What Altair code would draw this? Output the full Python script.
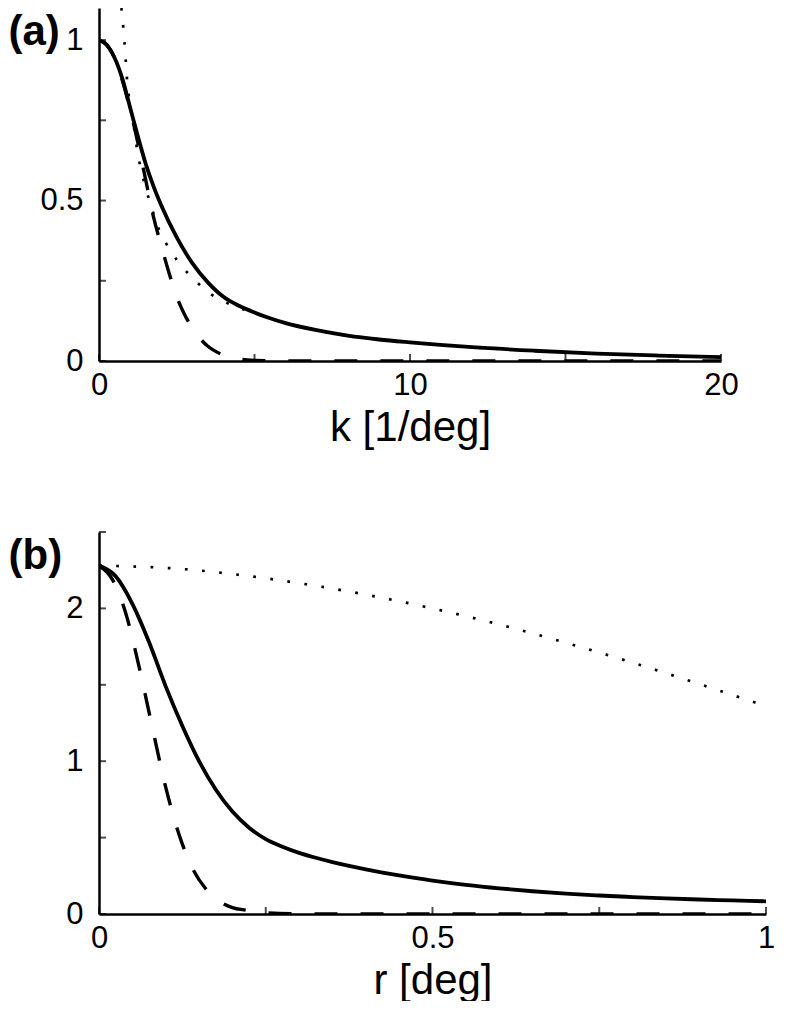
import altair as alt
import pandas as pd

# ---------------- Panel (a) ----------------
A_SOLID_K = [0, 0.25, 0.5, 0.75, 1, 1.25, 1.5, 1.75, 2, 2.5, 3, 3.5, 4, 4.5, 5,
             5.5, 6, 7, 8, 9, 10, 12, 14, 16, 18, 20]
A_SOLID_V = [1.0, 0.985, 0.945, 0.88, 0.79, 0.70, 0.615, 0.545, 0.485, 0.385, 0.305,
             0.245, 0.2, 0.172, 0.151, 0.133, 0.118, 0.096, 0.079, 0.067, 0.058, 0.043,
             0.032, 0.023, 0.017, 0.012]
A_DASH_K = [0, 0.25, 0.5, 0.75, 1, 1.25, 1.5, 1.75, 2, 2.25, 2.5, 2.75, 3, 3.25,
            3.5, 3.75, 4, 4.5, 5, 6, 8, 10, 12, 14, 16, 18, 20]
A_DASH_V = [1.0, 0.985, 0.945, 0.875, 0.785, 0.68, 0.565, 0.45, 0.36, 0.275, 0.2,
            0.145, 0.103, 0.07, 0.046, 0.03, 0.018, 0.006, 0.002, 0, 0, 0, 0, 0, 0,
            0, 0]
A_DOT_K = [0.72, 0.78, 0.85, 0.94, 1.1, 1.25, 1.5, 1.75, 2.0, 2.5, 3.0, 3.5, 4, 4.5,
           5, 5.5, 6, 7, 8, 10, 12, 14, 16, 18, 20]
A_DOT_V = [1.1, 1.04, 0.95, 0.84, 0.745, 0.645, 0.54, 0.46, 0.395, 0.315, 0.26,
           0.215, 0.186, 0.166, 0.149, 0.133, 0.118, 0.096, 0.079, 0.058, 0.043,
           0.032, 0.023, 0.017, 0.012]
A_XTICKS = [0, 5, 10, 15, 20]
A_YTICKS = [0, 0.25, 0.5, 0.75, 1]
A_XLABELS = [0, 10, 20]
A_YLABELS = [0, 0.5, 1]

# ---------------- Panel (b) ----------------
B_SOLID_R = [0, 0.025, 0.05, 0.075, 0.1, 0.125, 0.15, 0.175, 0.2, 0.225, 0.25, 0.275,
             0.3, 0.325, 0.35, 0.375, 0.4, 0.425, 0.45, 0.5, 0.55, 0.6, 0.65, 0.7,
             0.75, 0.8, 0.85, 0.9, 0.95, 1.0]
B_SOLID_V = [2.28, 2.21, 2.03, 1.78, 1.49, 1.23, 1.0, 0.815, 0.67, 0.565, 0.49, 0.44,
             0.40, 0.368, 0.34, 0.315, 0.292, 0.271, 0.252, 0.219, 0.191, 0.168, 0.149,
             0.133, 0.121, 0.111, 0.102, 0.095, 0.089, 0.083]
B_DASH_R = [0, 0.02, 0.04, 0.06, 0.08, 0.10, 0.12, 0.14, 0.16, 0.18, 0.20, 0.22,
            0.25, 0.3, 0.4, 0.5, 0.6, 0.7, 0.8, 0.9, 1.0]
B_DASH_V = [2.28, 2.19, 1.97, 1.62, 1.22, 0.83, 0.52, 0.30, 0.165, 0.085, 0.042,
            0.025, 0.008, 0.001, 0, 0, 0, 0, 0, 0, 0]
B_DOT_R = [0, 0.1, 0.2, 0.3, 0.4, 0.5, 0.6, 0.7, 0.8, 0.9, 1.0]
B_DOT_V = [2.28, 2.265, 2.225, 2.165, 2.09, 2.0, 1.895, 1.775, 1.645, 1.505, 1.36]
B_XTICKS = [0, 0.25, 0.5, 0.75, 1]
B_YTICKS = [0, 0.5, 1, 1.5, 2, 2.5]
B_XLABELS = [0, 0.5, 1]
B_YLABELS = [0, 1, 2]

FONT = "Liberation Sans"
LEFT_EXTENT = 91


def panel(solid, dashed, dotted, xdom, ydom, xticks, yticks, xlabels, ylabels,
          xtitle, tag, w, h):
    xs = alt.Scale(domain=xdom, nice=False, zero=False)
    ys = alt.Scale(domain=ydom, nice=False, zero=False)
    xaxis = alt.Axis(values=xlabels, format="~g", title=xtitle, ticks=False, tickSize=0,
                     grid=False, domainWidth=2.5, domainColor="black",
                     labelFont=FONT, labelFontSize=31, labelColor="black",
                     labelPadding=9, labelFlush=False, labelOverlap=False,
                     titleFont=FONT, titleFontSize=42, titleFontWeight="normal",
                     titleColor="black", titlePadding=7)
    yaxis = alt.Axis(values=ylabels, format="~g", title=tag, ticks=False, tickSize=0,
                     grid=False, domainWidth=2.5, domainColor="black",
                     labelFont=FONT, labelFontSize=31, labelColor="black",
                     labelPadding=16, labelFlush=False, labelOverlap=False,
                     titleFont=FONT, titleFontSize=42, titleFontWeight="bold",
                     titleColor="black", titleAngle=0, titleX=-LEFT_EXTENT,
                     titleY=3, titleAlign="left", titleBaseline="top")
    enc = dict(x=alt.X("x:Q", scale=xs, axis=xaxis), y=alt.Y("y:Q", scale=ys, axis=yaxis))

    def line(xv, yv, **kw):
        df = pd.DataFrame({"x": xv, "y": yv})
        return alt.Chart(df).mark_line(color="black", clip=True, **kw).encode(**enc)

    l_dot = line(*dotted, interpolate="natural", strokeWidth=2.7,
                 strokeDash=[2.7, 14.5], strokeCap="butt")
    l_dash = line(*dashed, interpolate="monotone", strokeWidth=3.4,
                  strokeDash=[23, 23], strokeCap="butt")
    l_solid = line(*solid, interpolate="monotone", strokeWidth=3.8)

    xt = alt.Chart(pd.DataFrame({"x": xticks, "y": [ydom[0]] * len(xticks)})).mark_tick(
        orient="vertical", size=7, thickness=2, yOffset=-3.5, color="black").encode(**enc)
    yt = alt.Chart(pd.DataFrame({"x": [xdom[0]] * len(yticks), "y": yticks})).mark_tick(
        orient="horizontal", size=7, thickness=2, xOffset=3.5, color="black").encode(**enc)

    return alt.layer(l_dot, l_dash, l_solid, xt, yt).properties(width=w, height=h)


pa = panel((A_SOLID_K, A_SOLID_V), (A_DASH_K, A_DASH_V), (A_DOT_K, A_DOT_V),
           [0, 20], [0, 1.1], A_XTICKS, A_YTICKS, A_XLABELS, A_YLABELS,
           "k [1/deg]", "(a)", 622, 353)
pb = panel((B_SOLID_R, B_SOLID_V), (B_DASH_R, B_DASH_V), (B_DOT_R, B_DOT_V),
           [0, 1], [0, 2.5], B_XTICKS, B_YTICKS, B_XLABELS, B_YLABELS,
           "r [deg]", "(b)", 667, 382)

chart = alt.vconcat(pa, pb, spacing=83).properties(
    padding={"left": 0, "top": 0, "right": 0, "bottom": 0}
).configure_view(stroke=None)

chart.save("out.html", embed_options={"renderer": "svg", "actions": False})
